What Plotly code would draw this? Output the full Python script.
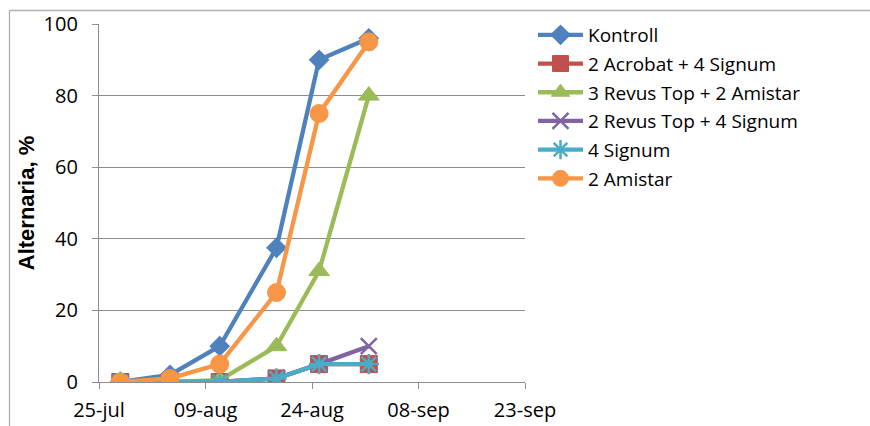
import plotly.graph_objects as go

dates = ["2012-07-28", "2012-08-04", "2012-08-11", "2012-08-19", "2012-08-25", "2012-09-01"]
kontroll = [0, 2, 10, 37.5, 90, 96]
acrobat_signum = [0, 0, 0, 1, 5, 5]
revus_amistar = [0, 0, 0.5, 10, 31, 80]
revus_signum = [0, 0, 0, 1, 5, 10]
signum = [0, 0, 0, 1, 5, 5]
amistar = [0, 1, 5, 25, 75, 95]

tick_dates = ["2012-07-25", "2012-08-09", "2012-08-24", "2012-09-08", "2012-09-23"]
tick_labels = ["25-jul", "09-aug", "24-aug", "08-sep", "23-sep"]
y_ticks = [0, 20, 40, 60, 80, 100]

series = [
    ("Kontroll", kontroll, "#4F81BD", "diamond", 16, 0),
    ("2 Acrobat + 4 Signum", acrobat_signum, "#C0504D", "square", 17, 1),
    ("3 Revus Top + 2 Amistar", revus_amistar, "#9BBB59", "triangle-up", 18, 1),
    ("2 Revus Top + 4 Signum", revus_signum, "#8064A2", "x-thin", 16, 2.5),
    ("4 Signum", signum, "#4BACC6", "asterisk", 17, 2.5),
    ("2 Amistar", amistar, "#F79646", "circle", 18, 1),
]

fig = go.Figure()
for i, (name, vals, col, sym, size, lw) in enumerate(series):
    fig.add_trace(go.Scatter(
        x=dates, y=vals, name=name, mode="lines+markers",
        line=dict(color=col, width=4.3),
        marker=dict(symbol=sym, size=size, color=col, line=dict(color=col, width=lw)),
        legendgroup="g%d" % i,
    ))

grid = "#8c8c8c"
L, R, T, B = 99, 525, 24, 382
W, H = 870, 426
pw, ph = R - L, B - T

def px(xp):
    return (xp - L) / pw

def py(yp):
    return (B - yp) / ph

fig.update_layout(
    width=W, height=H,
    margin=dict(l=L, r=W - R, t=T, b=H - B, autoexpand=False),
    paper_bgcolor="white", plot_bgcolor="white",
    font=dict(family="Open Sans", size=20, color="#000000"),
    showlegend=True,
    legend=dict(x=px(533), y=py(16), xanchor="left", yanchor="top",
                font=dict(family="Open Sans", size=19, color="#000000"),
                traceorder="grouped", tracegroupgap=1, itemwidth=45,
                bgcolor="rgba(0,0,0,0)"),
    xaxis=dict(
        type="date", range=["2012-07-25", "2012-09-23"],
        tickvals=tick_dates, ticktext=tick_labels,
        showgrid=False, showline=True, linecolor=grid, linewidth=1.3,
        ticks="outside", ticklen=6, tickcolor=grid, tickwidth=1.3,
        zeroline=False, ticklabelstandoff=4, automargin=False,
        tickfont=dict(family="Open Sans", size=20, color="#000000"),
    ),
    yaxis=dict(
        range=[0, 100], tickvals=y_ticks,
        showgrid=True, gridcolor=grid, gridwidth=1.3,
        showline=True, linecolor=grid, linewidth=1.3,
        ticks="outside", ticklen=6, tickcolor=grid, tickwidth=1.3,
        zeroline=False, ticklabelstandoff=10, automargin=False,
        tickfont=dict(family="Open Sans", size=20, color="#000000"),
        title=dict(text="<b>Alternaria, %</b>", standoff=2,
                   font=dict(family="Liberation Sans", size=22, color="#000000")),
    ),
    shapes=[
        dict(type="line", xref="paper", yref="paper",
             x0=px(9.5), x1=px(W + 20), y0=py(10.5), y1=py(10.5),
             line=dict(color="#b0b0b0", width=1.3)),
        dict(type="line", xref="paper", yref="paper",
             x0=px(9.5), x1=px(9.5), y0=py(10.5), y1=py(H + 20),
             line=dict(color="#b0b0b0", width=1.3)),
    ],
)

fig.write_html("out.html", config={"displayModeBar": False},
               post_script="document.body.style.margin='0';document.body.style.overflow='hidden';")
